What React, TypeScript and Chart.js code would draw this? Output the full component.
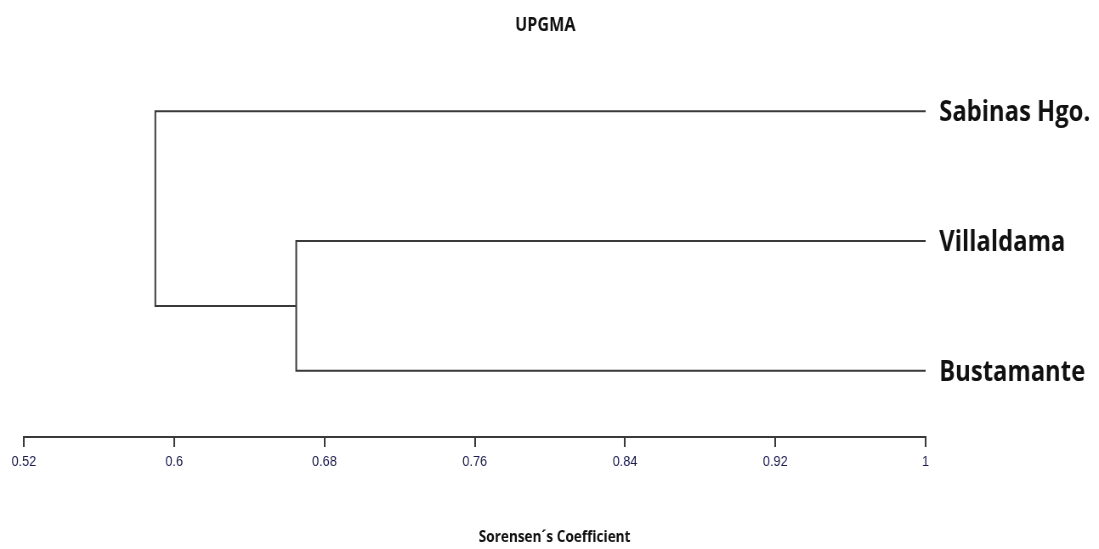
import React, { useEffect, useRef } from "react";
import { Chart, registerables } from "chart.js";

Chart.register(...registerables);

// ---- data ----
const leafNames = ["Sabinas Hgo.", "Villaldama", "Bustamante"];
const leafRows = [3, 2, 1];
const leafSimilarity = 1;
// merge 1: Villaldama + Bustamante, merge 2: Sabinas Hgo. + (merge 1)
const mergeSimilarity = [0.665, 0.59];
const tickValues = [0.52, 0.6, 0.68, 0.76, 0.84, 0.92, 1];
const tickLabels = ["0.52", "0.6", "0.68", "0.76", "0.84", "0.92", "1"];
const chartTitle = "UPGMA";
const axisTitle = "Sorensen´s Coefficient";

// ---- layout (horizontal squeeze of the drawing) ----
const SX = 0.85;
const CSS_W = 1099;
const CSS_H = 549;
const LOG_W = Math.round(CSS_W / SX);

const LINE = "#3a3a3a";

const rowMid = (leafRows[1] + leafRows[2]) / 2;

const innerLink = [
  { x: leafSimilarity, y: leafRows[1] },
  { x: mergeSimilarity[0], y: leafRows[1] },
  { x: mergeSimilarity[0], y: leafRows[2] },
  { x: leafSimilarity, y: leafRows[2] },
];
const outerLink = [
  { x: leafSimilarity, y: leafRows[0] },
  { x: mergeSimilarity[1], y: leafRows[0] },
  { x: mergeSimilarity[1], y: rowMid },
  { x: mergeSimilarity[0], y: rowMid },
];

const labelPlugin = {
  id: "dendroLabels",
  afterDraw(chart: any) {
    const { ctx, chartArea, scales } = chart;
    ctx.save();
    ctx.fillStyle = "#111111";
    ctx.textAlign = "left";
    ctx.textBaseline = "alphabetic";
    ctx.font = 'bold 28px "Open Sans"';
    leafNames.forEach((name, i) => {
      const y = scales.y.getPixelForValue(leafRows[i]);
      ctx.fillText(name, chartArea.right + 16, y + 10);
    });
    ctx.textAlign = "center";
    ctx.textBaseline = "middle";
    ctx.font = 'bold 19px "Open Sans"';
    ctx.fillText(chartTitle, chart.width / 2 - 5, 26);
    ctx.font = 'bold 16px "Open Sans"';
    ctx.fillText(axisTitle, chart.width / 2 + 6, 537);
    ctx.restore();
  },
};

export default function App() {
  const ref = useRef<HTMLCanvasElement | null>(null);

  useEffect(() => {
    if (!ref.current) return;
    const ds = (data: any[]) => ({
      data,
      showLine: true,
      borderColor: LINE,
      borderWidth: 2,
      pointRadius: 0,
      pointHoverRadius: 0,
      tension: 0,
      fill: false,
      clip: false as any,
    });
    const chart = new Chart(ref.current, {
      type: "scatter",
      data: { datasets: [ds(innerLink), ds(outerLink)] },
      options: {
        animation: false,
        responsive: false,
        devicePixelRatio: 1,
        layout: { padding: { left: 28, right: 204, top: 60, bottom: 72 } },
        plugins: {
          legend: { display: false },
          tooltip: { enabled: false },
          title: { display: false },
        },
        scales: {
          x: {
            type: "linear",
            min: tickValues[0],
            max: tickValues[tickValues.length - 1],
            afterBuildTicks: (scale: any) => {
              scale.ticks = tickValues.map((v) => ({ value: v }));
            },
            ticks: {
              autoSkip: false,
              maxRotation: 0,
              padding: 6,
              color: "#1c1c50",
              font: { family: '"Liberation Sans", Arial', size: 15 },
              callback: (_v: any, i: number) => tickLabels[i],
            },
            grid: {
              display: true,
              drawOnChartArea: false,
              drawTicks: true,
              tickLength: 10,
              tickColor: LINE,
              tickWidth: 2,
              lineWidth: 2,
              color: LINE,
            },
            border: { display: true, color: LINE, width: 2 },
          },
          y: {
            type: "linear",
            display: false,
            min: 0.49,
            max: 3.394,
          },
        },
      },
      plugins: [labelPlugin],
    });
    return () => chart.destroy();
  }, []);

  return (
    <div style={{ position: "absolute", left: 0, top: 0, width: CSS_W, height: CSS_H, background: "#ffffff" }}>
      <canvas
        ref={ref}
        width={LOG_W}
        height={CSS_H}
        style={{ width: `${CSS_W}px`, height: `${CSS_H}px`, display: "block" }}
      />
    </div>
  );
}
